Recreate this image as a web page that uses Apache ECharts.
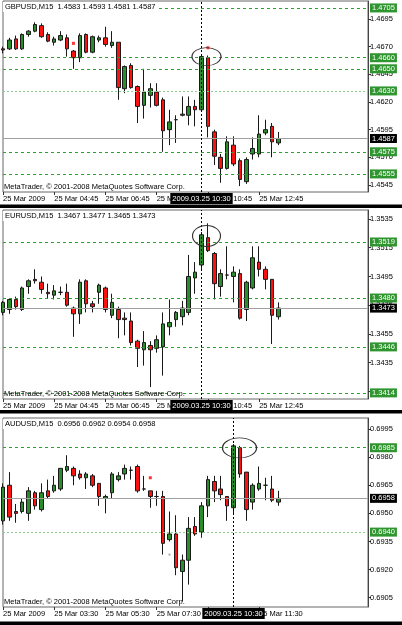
<!DOCTYPE html>
<html>
<head>
<meta charset="utf-8">
<script src="https://cdn.jsdelivr.net/npm/echarts@6/dist/echarts.min.js"></script>
<style>
html, body { margin: 0; padding: 0; background: #fff; }
#main { width: 402px; height: 625px; }
</style>
</head>
<body>
<div id="main"></div>
<script>
// 15 minute bars, [open, close, low, high]
var gbpusd = [
  [1.4668,1.4667,1.4664,1.4670],[1.4668,1.4676,1.4667,1.4678],[1.4677,1.4668,1.4667,1.4680],[1.4668,1.4681,1.4667,1.4682],
  [1.4681,1.4684,1.4679,1.4685],[1.4684,1.4690,1.4683,1.4692],[1.4689,1.4679,1.4678,1.4691],[1.4681,1.4675,1.4674,1.4683],
  [1.4674,1.4677,1.4671,1.4679],[1.4676,1.4680,1.4675,1.4684],[1.4678,1.4668,1.4661,1.4681],[1.4666,1.4660,1.4650,1.4667],
  [1.4660,1.4680,1.4656,1.4682],[1.4681,1.4665,1.4664,1.4682],[1.4665,1.4679,1.4664,1.4680],[1.4676,1.4678,1.4674,1.4680],
  [1.4678,1.4672,1.4670,1.4688],[1.4671,1.4674,1.4669,1.4684],[1.4674,1.4633,1.4622,1.4674],[1.4632,1.4652,1.4628,1.4653],
  [1.4653,1.4633,1.4632,1.4655],[1.4634,1.4616,1.4601,1.4635],[1.4617,1.4629,1.4605,1.4650],[1.4626,1.4632,1.4615,1.4637],
  [1.4629,1.4617,1.4616,1.4637],[1.4622,1.4594,1.4575,1.4624],[1.4595,1.4602,1.4581,1.4613],[1.4604,1.4604,1.4583,1.4608],
  [1.4609,1.4608,1.4607,1.4625],[1.4608,1.4616,1.4599,1.4625],[1.4616,1.4613,1.4598,1.4622],[1.4613,1.4661,1.4611,1.4662],
  [1.4660,1.4598,1.4588,1.4662],[1.4593,1.4571,1.4563,1.4595],[1.4570,1.4560,1.4547,1.4573],[1.4560,1.4584,1.4559,1.4589],
  [1.4581,1.4564,1.4562,1.4589],[1.4567,1.4550,1.4544,1.4569],[1.4548,1.4568,1.4546,1.4570],[1.4573,1.4578,1.4568,1.4588],
  [1.4573,1.4591,1.4570,1.4608],[1.4592,1.4595,1.4590,1.4604],[1.4598,1.4584,1.4570,1.4601],[1.4583,1.4587,1.4581,1.4593]
];
var eurusd = [
  [1.3470,1.3477,1.3468,1.3478],[1.3472,1.3479,1.3469,1.3480],[1.3479,1.3474,1.3472,1.3481],[1.3472,1.3487,1.3471,1.3488],
  [1.3488,1.3492,1.3483,1.3493],[1.3493,1.3492,1.3490,1.3500],[1.3491,1.3486,1.3483,1.3495],[1.3484,1.3483,1.3480,1.3490],
  [1.3482,1.3485,1.3479,1.3489],[1.3484,1.3484,1.3482,1.3488],[1.3484,1.3475,1.3474,1.3490],[1.3473,1.3469,1.3453,1.3474],
  [1.3469,1.3491,1.3462,1.3493],[1.3492,1.3476,1.3470,1.3493],[1.3476,1.3474,1.3470,1.3478],[1.3484,1.3489,1.3476,1.3490],
  [1.3487,1.3472,1.3470,1.3488],[1.3468,1.3477,1.3466,1.3483],[1.3472,1.3465,1.3452,1.3474],[1.3466,1.3465,1.3454,1.3470],
  [1.3464,1.3449,1.3447,1.3470],[1.3450,1.3445,1.3432,1.3451],[1.3444,1.3449,1.3433,1.3457],[1.3447,1.3444,1.3418,1.3450],
  [1.3445,1.3451,1.3442,1.3454],[1.3446,1.3462,1.3426,1.3470],[1.3460,1.3463,1.3454,1.3479],[1.3465,1.3470,1.3460,1.3471],
  [1.3467,1.3473,1.3461,1.3478],[1.3470,1.3495,1.3468,1.3510],[1.3494,1.3498,1.3483,1.3505],[1.3503,1.3524,1.3500,1.3526],
  [1.3522,1.3513,1.3512,1.3532],[1.3511,1.3490,1.3479,1.3512],[1.3488,1.3497,1.3481,1.3500],[1.3496,1.3496,1.3493,1.3516],
  [1.3495,1.3498,1.3477,1.3502],[1.3497,1.3466,1.3465,1.3500],[1.3472,1.3491,1.3464,1.3492],[1.3487,1.3508,1.3486,1.3516],
  [1.3505,1.3500,1.3495,1.3516],[1.3500,1.3493,1.3486,1.3502],[1.3493,1.3468,1.3448,1.3493],[1.3467,1.3473,1.3465,1.3477]
];
var audusd = [
  [0.6946,0.6964,0.6944,0.6966],[0.6965,0.6948,0.6946,0.6972],[0.6951,0.6950,0.6945,0.6955],[0.6951,0.6956,0.6950,0.6958],
  [0.6950,0.6962,0.6946,0.6964],[0.6961,0.6954,0.6952,0.6962],[0.6952,0.6961,0.6951,0.6966],[0.6962,0.6959,0.6958,0.6968],
  [0.6962,0.6965,0.6961,0.6970],[0.6963,0.6974,0.6962,0.6974],[0.6973,0.6975,0.6972,0.6981],[0.6974,0.6970,0.6965,0.6975],
  [0.6971,0.6969,0.6968,0.6973],[0.6969,0.6971,0.6963,0.6972],[0.6970,0.6965,0.6964,0.6971],[0.6966,0.6959,0.6954,0.6966],
  [0.6958,0.6959,0.6950,0.6960],[0.6961,0.6971,0.6958,0.6972],[0.6968,0.6970,0.6967,0.6972],[0.6971,0.6974,0.6968,0.6976],
  [0.6973,0.6973,0.6968,0.6975],[0.6975,0.6962,0.6961,0.6976],[0.6963,0.6963,0.6962,0.6970],[0.6962,0.6959,0.6953,0.6962],
  [0.6959,0.6959,0.6954,0.6962],[0.6959,0.6934,0.6928,0.6962],[0.6936,0.6939,0.6935,0.6951],[0.6939,0.6921,0.6917,0.6949],
  [0.6919,0.6925,0.6903,0.6928],[0.6925,0.6942,0.6912,0.6948],[0.6943,0.6939,0.6938,0.6948],[0.6940,0.6954,0.6937,0.6956],
  [0.6954,0.6968,0.6948,0.6970],[0.6967,0.6962,0.6956,0.6970],[0.6963,0.6960,0.6957,0.6970],[0.6959,0.6954,0.6946,0.6959],
  [0.6953,0.6986,0.6950,0.6987],[0.6985,0.6971,0.6969,0.6986],[0.6972,0.6952,0.6946,0.6972],[0.6956,0.6965,0.6952,0.6966],
  [0.6963,0.6966,0.6962,0.6975],[0.6965,0.6965,0.6957,0.6969],[0.6963,0.6957,0.6956,0.6970],[0.6956,0.6958,0.6954,0.6962]
];

// price ticks on the right scale
var ticksGbp = [1.4545, 1.4570, 1.4595, 1.4620, 1.4645, 1.4670, 1.4695];
var ticksEur = [1.3415, 1.3435, 1.3455, 1.3475, 1.3495, 1.3515, 1.3535];
var ticksAud = [0.6905, 0.6920, 0.6935, 0.6950, 0.6965, 0.6980, 0.6995];

// horizontal levels (green boxes) and the last price
var levelsGbp = [1.4705, 1.4660, 1.4650, 1.4630, 1.4575, 1.4555];
var levelsEur = [1.3519, 1.3480, 1.3446, 1.3414];
var levelsAud = [0.6985, 0.6940];
var faintGbp = [1.4630];
var faintAud = [0.6940];
var lastGbp = 1.4587, lastEur = 1.3473, lastAud = 0.6958;

// small marker dots
var dotsGbp = [['05:30', 1.4673], ['10:45', 1.4669]];
var dotsAud = [['07:15', 0.6969]];
var dotsAudGrey = [['08:00', 0.6928]];

function timeCats(h, m, n) {
  var out = [];
  for (var i = 0; i < n; i++) {
    var t = h * 60 + m + 15 * i;
    var hh = Math.floor(t / 60), mm = t % 60;
    out.push((hh < 10 ? '0' : '') + hh + ':' + (mm < 10 ? '0' : '') + mm);
  }
  return out;
}
var catsEarly = timeCats(2, 45, 58);
var catsAud = timeCats(1, 30, 58);

var FONT = 'Liberation Sans';
var FS = 7.5;
var LINE_GREEN = '#2ea02e';
var BOX_GREEN = '#2f962f';

var panels = [
  { title: 'GBPUSD,M15  1.4583 1.4593 1.4581 1.4587', data: gbpusd, cats: catsEarly,
    top: 1, height: 191, min: 1.453867, max: 1.471126, ticks: ticksGbp,
    levels: levelsGbp, faint: faintGbp, last: lastGbp, ring: [1.4661, 5, 29, 18],
    dots: dotsGbp, grey: [] },
  { title: 'EURUSD,M15  1.3467 1.3477 1.3465 1.3473', data: eurusd, cats: catsEarly,
    top: 210, height: 189, min: 1.340974, max: 1.354126, ticks: ticksEur,
    levels: levelsEur, faint: [], last: lastEur, ring: [1.35232, 5, 28, 21],
    dots: [], grey: [] },
  { title: 'AUDUSD,M15  0.6956 0.6962 0.6954 0.6958', data: audusd, cats: catsAud,
    top: 418, height: 189, min: 0.690004, max: 0.700087, ticks: ticksAud,
    levels: levelsAud, faint: faintAud, last: lastAud, ring: [0.69849, 6, 34, 20],
    dots: dotsAud, grey: dotsAudGrey }
];

var grids = [], xAxes = [], yAxes = [], series = [], graphics = [];

panels.forEach(function (p, i) {
  grids.push({ left: 2, top: p.top, width: 366, height: p.height, show: true,
    borderColor: '#666', borderWidth: 1, backgroundColor: '#fff' });

  xAxes.push({
    type: 'category', gridIndex: i, data: p.cats, boundaryGap: false,
    axisLine: { show: false },
    axisTick: { show: true, length: 3, lineStyle: { color: '#333' },
      interval: function (idx) { return idx % 8 === 0 && idx <= 40; } },
    axisLabel: { show: true, fontSize: FS, fontFamily: FONT, color: '#000', margin: 3, align: 'left',
      interval: function (idx) { return idx % 8 === 0 && idx <= 40; },
      formatter: function (v, idx) { return idx === 0 ? '25 Mar 2009' : '25 Mar ' + v; } },
    splitLine: { show: false }
  });

  yAxes.push({
    type: 'value', gridIndex: i, position: 'right', min: p.min, max: p.max,
    axisLine: { show: true, lineStyle: { color: '#444' } },
    axisTick: { show: true, length: 3, customValues: p.ticks, lineStyle: { color: '#333' } },
    axisLabel: { show: true, customValues: p.ticks, fontSize: FS, fontFamily: FONT, color: '#000', margin: 2,
      formatter: function (v) { return v.toFixed(4); } },
    splitLine: { show: false }
  });

  var marks = p.levels.map(function (v) {
    var faint = p.faint.indexOf(v) >= 0;
    return { yAxis: v,
      lineStyle: { color: faint ? '#8cd08c' : LINE_GREEN, type: faint ? [2, 2] : [3, 3], width: 1 },
      label: { show: true, position: 'end', distance: 2, formatter: v.toFixed(4), color: '#fff',
        backgroundColor: BOX_GREEN, padding: [1, 2, 0, 2], fontSize: FS, fontFamily: FONT } };
  });
  marks.push({ yAxis: p.last, lineStyle: { color: '#a0a0a0', type: 'solid', width: 1 },
    label: { show: true, position: 'end', distance: 2, formatter: p.last.toFixed(4), color: '#fff',
      backgroundColor: '#000', padding: [1, 2, 0, 2], fontSize: FS, fontFamily: FONT } });
  marks.push({ xAxis: '10:30', lineStyle: { color: '#000', type: [2, 2], width: 1 },
    label: { show: true, position: 'start', distance: 1, formatter: '2009.03.25 10:30', color: '#fff',
      backgroundColor: '#000', padding: [2, 2, 1, 2], fontSize: FS, fontFamily: FONT } });

  series.push({
    type: 'candlestick', xAxisIndex: i, yAxisIndex: i, data: p.data, barWidth: 4,
    itemStyle: { color: '#2a8c2a', color0: '#ff1010', borderColor: '#1a1a1a', borderColor0: '#1a1a1a', borderWidth: 1 },
    markLine: { symbol: ['none', 'none'], silent: true, animation: false, precision: 4, data: marks },
    markPoint: { silent: true, animation: false,
      data: [{ coord: ['10:30', p.ring[0]], symbol: 'circle', symbolSize: [p.ring[2], p.ring[3]],
        symbolOffset: [p.ring[1], 0],
        itemStyle: { color: 'rgba(0,0,0,0)', borderColor: '#333', borderWidth: 1 },
        label: { show: false } }] }
  });
  series.push({ type: 'scatter', xAxisIndex: i, yAxisIndex: i, data: p.dots, symbol: 'rect',
    symbolSize: 3, itemStyle: { color: '#ff0000' }, silent: true });
  series.push({ type: 'scatter', xAxisIndex: i, yAxisIndex: i, data: p.grey, symbol: 'rect',
    symbolSize: 2, itemStyle: { color: '#8a9ab0' }, silent: true });

  graphics.push({ type: 'text', left: 3, top: p.top + 1, z: 50,
    style: { text: p.title, font: FS + 'px "' + FONT + '"', fill: '#000',
      backgroundColor: '#fff', padding: [1, 2, 1, 2] } });
  graphics.push({ type: 'text', left: 4, top: p.top + p.height - 9, z: 50,
    style: { text: 'MetaTrader, \u00a9 2001-2008 MetaQuotes Software Corp.', font: FS + 'px "' + FONT + '"', fill: '#000' } });
});

// dark window separators
[[204.5, 3.5], [410, 3.5], [621.5, 3.5]].forEach(function (b) {
  graphics.push({ type: 'rect', z: 60, shape: { x: 0, y: b[0], width: 402, height: b[1] }, style: { fill: '#000' } });
});

var chart = echarts.init(document.getElementById('main'), null, { renderer: 'canvas' });
chart.setOption({
  animation: false,
  backgroundColor: '#fff',
  grid: grids,
  xAxis: xAxes,
  yAxis: yAxes,
  series: series,
  graphic: graphics
});
</script>
</body>
</html>
